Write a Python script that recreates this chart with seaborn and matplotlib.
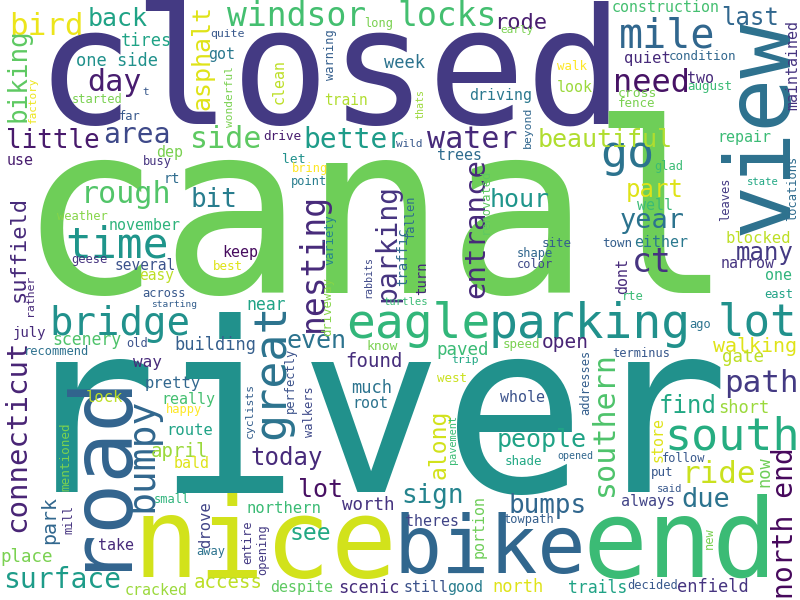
import matplotlib
matplotlib.use("Agg")
import matplotlib.pyplot as plt
import seaborn as sns

# word cloud: each word, its size in pixels, orientation, anchor and viridis shade
# anchor = (centre along the text, baseline)
words = [
    "closed", "canal", "river", "view", "nice", "bike", "end", "road", "eagle", "parking",
    "lot", "south", "bridge", "time", "mile", "locks", "windsor", "great", "bumpy", "connecticut",
    "north end", "nesting", "parking", "entrance", "little", "area", "day", "need", "go", "water",
    "better", "beautiful", "side", "bird", "back", "biking", "asphalt", "rough", "bit", "suffield",
    "southern", "ride", "part", "year", "ct", "many", "path", "people", "sign", "today",
    "lot", "surface", "access", "hour", "even", "bumps", "due", "see", "find", "rode",
    "last", "along", "walking", "open", "found", "april", "park", "worth", "paved", "gate",
    "place", "near", "short", "november", "building", "scenery", "week", "trails", "enfield", "north",
    "scenic", "much", "now", "way", "one side", "tires", "pretty", "route", "lock", "really",
    "northern", "despite", "still", "good", "cracked", "take", "drove", "theres", "portion", "store",
    "root", "whole", "always", "keep", "several", "easy", "july", "dep", "use", "got",
    "quiet", "two", "look", "repair", "well", "either", "blocked", "narrow", "one", "dont",
    "construction", "maintained", "train", "driving", "clean", "trees", "turn", "traffic", "let", "know",
    "condition", "walk", "august", "cross", "fence", "glad", "state", "leaves", "locations", "town",
    "site", "shape", "color", "rte", "east", "ago", "terminus", "addresses", "speed", "opened",
    "follow", "shade", "put", "said", "towpath", "new", "decided", "walkers", "perfectly", "pavement",
    "happy", "bald", "cyclists", "mentioned", "mill", "small", "away", "entire", "opening", "weather",
    "geese", "best", "across", "starting", "rather", "old", "recommend", "variety", "rabbits", "driveway",
    "turtles", "fallen", "renovated", "trip", "west", "long", "early", "warning", "thats", "beyond",
    "wild", "bring", "point", "drive", "quite", "wonderful", "factory", "t", "started", "far",
    "busy", "rt",
]

size_px = [
    163, 238, 238, 90, 110, 80, 108, 85, 48, 48,
    44, 45, 39, 43, 40, 33, 33, 45, 38, 29,
    28, 33, 28, 29, 26, 28, 30, 32, 45, 30,
    28, 25, 30, 31, 25, 26, 25, 30, 26, 22,
    30, 31, 24, 27, 33, 24, 31, 25, 26, 24,
    25, 28, 19, 25, 25, 26, 27, 23, 24, 22,
    24, 23, 20, 19.5, 19, 19, 20, 17.5, 17.5, 17.5,
    17.5, 16.5, 17, 15, 17, 16.5, 17, 16.5, 17, 17,
    17, 17, 17, 16, 17, 17, 15.5, 15.5, 15.5, 15,
    15.5, 15, 15, 15, 15, 15, 15.5, 15, 15, 15,
    15, 15, 15, 15, 14.5, 14.5, 14, 15, 15, 15,
    15.5, 15, 15, 15, 15, 15, 15.5, 15, 15, 15,
    15, 15, 14.5, 15, 15, 15, 14, 14, 13, 13,
    12.5, 12.5, 12.5, 13, 12.5, 12, 10.5, 12, 12, 12.5,
    12.5, 12, 12, 12, 12, 12, 12, 12, 12.5, 10,
    12, 12.5, 12.5, 10.5, 12, 12, 12, 12, 12, 10.3,
    12, 15, 11.5, 12.6, 12, 12, 12, 12, 12, 12,
    12, 12.5, 12, 9.5, 11.5, 12, 12, 12, 10, 12.3,
    10.5, 12, 12, 11.5, 12.5, 12, 11, 12, 10, 11.5,
    11, 12, 12, 12.7, 11.5, 11.3, 11, 11, 12, 12,
    12, 13.6,
]

vertical = [
    0, 0, 0, 1, 0, 0, 0, 1, 0, 0,
    0, 0, 0, 0, 0, 0, 0, 1, 1, 1,
    1, 1, 1, 1, 0, 0, 0, 0, 0, 0,
    0, 0, 0, 0, 0, 1, 1, 0, 0, 1,
    1, 0, 0, 0, 0, 0, 0, 0, 0, 0,
    0, 0, 0, 0, 0, 0, 0, 0, 0, 0,
    0, 1, 0, 0, 0, 0, 1, 0, 0, 0,
    0, 0, 0, 0, 0, 0, 0, 0, 0, 0,
    0, 0, 1, 0, 0, 0, 0, 0, 0, 0,
    0, 0, 0, 0, 0, 0, 1, 0, 1, 1,
    0, 0, 0, 0, 0, 0, 0, 0, 0, 0,
    0, 0, 0, 0, 0, 0, 0, 0, 0, 1,
    0, 1, 0, 0, 1, 0, 1, 1, 0, 0,
    0, 0, 0, 0, 0, 0, 0, 1, 1, 0,
    0, 0, 0, 0, 0, 0, 0, 1, 0, 0,
    0, 0, 0, 0, 0, 1, 0, 1, 1, 1,
    0, 0, 1, 1, 1, 0, 0, 1, 1, 0,
    0, 0, 0, 0, 1, 0, 0, 1, 1, 1,
    0, 1, 1, 0, 0, 0, 0, 1, 1, 1,
    0, 0, 0, 0, 0, 1, 1, 0, 0, 0,
    0, 0,
]

pos_x = [
    330, 376, 372, 787, 265, 490, 680, 118, 418, 590,
    757, 732, 120, 117, 667, 447, 297, 284, 152, 25,
    793, 323, 395, 484, 53, 137, 114, 651, 627, 472,
    354, 605, 226, 46, 118, 25, 209, 126, 214, 25,
    613, 719, 655, 652, 652, 765, 761, 542, 433, 287,
    321, 62, 228, 520, 316, 548, 706, 310, 688, 521,
    750, 445, 755, 565, 374, 180, 55, 368, 463, 743,
    27, 266, 744, 145, 215, 87, 405, 598, 713, 518,
    369, 372, 769, 147, 117, 146, 173, 190, 104, 188,
    284, 302, 426, 465, 156, 116, 210, 432, 484, 663,
    370, 523, 648, 240, 145, 157, 29, 170, 20, 222,
    647, 700, 575, 744, 655, 661, 758, 748, 779, 627,
    666, 797, 346, 501, 284, 460, 426, 407, 294, 382,
    702, 572, 710, 637, 637, 669, 763, 729, 796, 617,
    557, 535, 535, 633, 779, 700, 641, 589, 521, 575,
    684, 523, 662, 670, 529, 713, 653, 313, 294, 456,
    184, 192, 253, 69, 72, 172, 211, 251, 266, 82,
    89, 228, 164, 174, 33, 137, 57, 333, 371, 331,
    406, 414, 489, 465, 452, 379, 517, 334, 423, 531,
    409, 310, 309, 282, 227, 233, 36, 146, 97, 130,
    157, 172,
]

pos_y = [
    124, 293, 492, 127, 577, 573, 577, 468, 338, 338,
    335, 450, 335, 257, 47, 26, 26, 371, 455, 436,
    523, 262, 243, 228, 148, 143, 91, 92, 167, 148,
    148, 147, 148, 35, 26, 75, 58, 203, 207, 249,
    424, 483, 197, 228, 272, 260, 392, 447, 503, 465,
    497, 588, 588, 207, 348, 513, 507, 540, 413, 29,
    25, 444, 352, 348, 367, 457, 520, 510, 355, 362,
    562, 310, 413, 230, 350, 345, 68, 593, 592, 592,
    593, 393, 472, 367, 66, 46, 388, 435, 402, 404,
    513, 592, 592, 592, 595, 550, 525, 526, 526, 440,
    408, 402, 506, 257, 270, 280, 337, 157, 165, 59,
    63, 83, 92, 142, 210, 247, 243, 268, 280, 276,
    12, 65, 105, 100, 82, 160, 278, 257, 163, 350,
    60, 70, 90, 97, 107, 170, 185, 199, 188, 247,
    247, 257, 268, 300, 298, 328, 357, 382, 348, 459,
    462, 465, 476, 492, 523, 538, 589, 412, 380, 439,
    413, 468, 410, 457, 519, 503, 555, 542, 550, 220,
    263, 270, 297, 307, 295, 347, 355, 240, 277, 306,
    305, 216, 201, 363, 382, 27, 33, 55, 104, 127,
    147, 172, 185, 140, 37, 97, 100, 95, 103, 120,
    165, 183,
]

shade = [
    .17, .78, .5, .37, .93, .33, .68, .32, .66, .5,
    .5, .62, .5, .52, .33, .7, .7, .38, .33, .1,
    .02, .12, .15, .12, .07, .22, .08, .05, .38, .12,
    .55, .88, .75, .97, .58, .75, .95, .73, .42, .12,
    .72, .92, .95, .38, .15, .17, .17, .58, .45, .12,
    .04, .55, .9, .52, .38, .33, .38, .6, .6, .08,
    .33, .93, .95, .1, .13, .85, .33, .15, .68, .9,
    .8, .58, .85, .65, .3, .72, .38, .58, .15, .95,
    .13, .38, .78, .12, .5, .58, .33, .58, .9, .7,
    .68, .75, .25, .42, .85, .12, .2, .2, .78, .95,
    .38, .25, .2, .03, .25, .9, .12, .8, .08, .4,
    .12, .12, .85, .68, .68, .4, .9, .15, .65, .12,
    .7, .15, .88, .4, .9, .35, .12, .35, .5, .8,
    .33, 1.0, .68, .8, .8, .68, .6, .17, .35, .3,
    .3, .33, .22, .68, .58, .38, .27, .3, .8, .33,
    .27, .6, .27, .27, .3, .8, .27, .22, .25, .68,
    1.0, .95, .3, .8, .15, .65, .38, .17, .17, .82,
    .15, .95, .27, .3, .12, .25, .37, .45, .22, .82,
    .68, .35, .75, .6, .92, .8, .8, .3, .85, .33,
    .27, 1.0, .42, .08, .27, .8, .97, .27, .8, .27,
    .15, .35,
]

assert len(words) == len(size_px) == len(vertical) == len(pos_x) == len(pos_y) == len(shade)

sns.set_theme(style="white")
plt.rcParams['font.family'] = ['DejaVu Sans Mono']
cmap = sns.color_palette("viridis", as_cmap=True)

fig = plt.figure(figsize=(8, 6), dpi=100)
ax = fig.add_axes([0, 0, 1, 1])
ax.set_xlim(0, 800)
ax.set_ylim(600, 0)  # pixel coords, origin top left
ax.axis('off')

for w, s, v, x, y, c in zip(words, size_px, vertical, pos_x, pos_y, shade):
    ax.text(x, y, w, fontsize=s * 0.72, color=cmap(c),
            rotation=90 if v else 0, rotation_mode='anchor',
            ha='center', va='baseline')

fig.savefig('out.png', dpi=100, facecolor='white')
